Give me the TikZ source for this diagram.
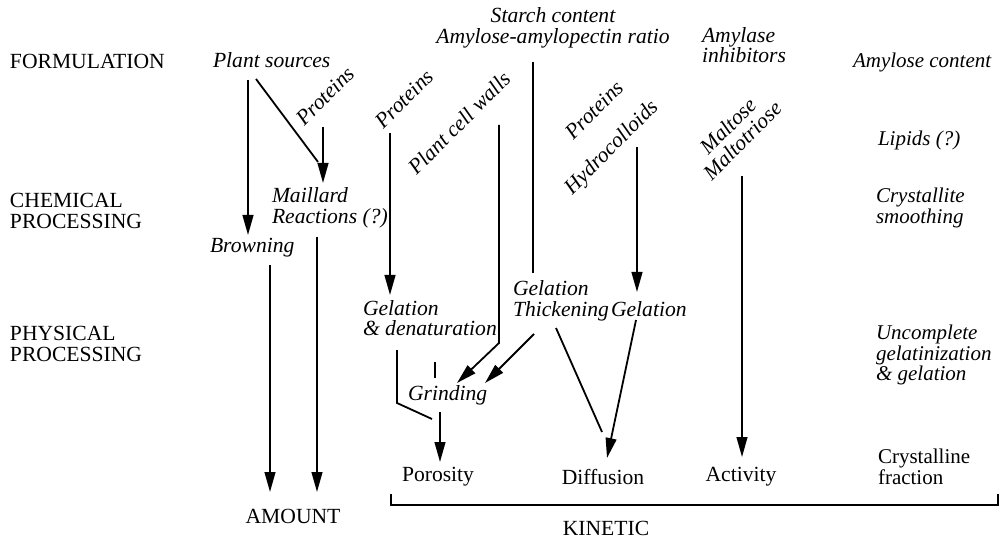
\documentclass[tikz,border=0pt]{standalone}
\usepackage{fontspec}
\setmainfont{Liberation Serif}
\usetikzlibrary{arrows.meta}
\begin{document}
\begin{tikzpicture}[x=0.5pt,y=-0.5pt,
  every node/.style={inner sep=0pt,outer sep=0pt,font=\fontsize{10.8}{10.2}\selectfont},
  lbl/.style={anchor=west,align=left},
  itl/.style={anchor=west,align=left,font=\fontsize{10.8}{10.2}\selectfont\itshape},
  ritl/.style={anchor=west,align=left,font=\fontsize{10.5}{10.2}\selectfont\itshape},
  rot/.style={rotate=45,font=\fontsize{10.8}{10.2}\selectfont\itshape},
  conn/.style={line width=0.9pt},
  arr/.style={line width=0.9pt,-{Triangle[length=10pt,width=5.4pt]}}]
\useasboundingbox (0,0) rectangle (999,539);
% row labels
\node[lbl] (form) at (10,61) {FORMULATION};
\node[lbl] (chem) at (10,211) {CHEMICAL\\PROCESSING};
\node[lbl] (phys) at (10,344) {PHYSICAL\\PROCESSING};
% top texts
\node[itl] (plant) at (213,60) {Plant sources};
\node[font=\fontsize{10.8}{10.2}\selectfont\itshape,align=center] (starch) at (553,28) {Starch content\\Amylose-amylopectin ratio};
\node[itl] (amylase) at (702,45) {Amylase\\inhibitors};
\node[ritl] (amycont) at (853,62) {Amylose content};
\node[ritl] (lipids) at (878,140) {Lipids (?)};
\node[ritl] (cryst) at (876,208) {Crystallite\\smoothing};
\node[ritl] (uncomp) at (876,355) {Uncomplete\\gelatinization\\\& gelation};
\node[lbl,font=\fontsize{10.5}{10.2}\selectfont] (crfrac) at (878,467) {Crystalline\\fraction};
% rotated
\node[rot] (prot1) at (325,96) {Proteins};
\node[rot] (prot2) at (404,99) {Proteins};
\node[rot] (walls) at (459,123) {Plant cell walls};
\node[rot] (prot3) at (594,110) {Proteins};
\node[rot] (hydro) at (612,148) {Hydrocolloids};
\node[rot,align=center] (malt) at (735,133) {Maltose\\Maltotriose};
% chemical row
\node[itl] (maill) at (272,208) {Maillard\\Reactions (?)};
\node[itl] (brown) at (210,248) {Browning};
% physical row
\node[itl] (geld) at (363,318) {Gelation\\\& denaturation};
\node[itl] (gelt) at (513,301) {Gelation\\Thickening};
\node[itl] (gelr) at (611,309) {Gelation};
\node[itl] (grind) at (408,395) {Grinding};
% outputs
\node (poro) at (438,477) {Porosity};
\node (diff) at (603,477) {Diffusion};
\node (act) at (741,477) {Activity};
\node (amount) at (293,516) {AMOUNT};
\node (kin) at (606,528) {KINETIC};
% coordinates
\coordinate (a1s) at (248,80); \coordinate (a1e) at (248,235);
\coordinate (d1s) at (256,79); \coordinate (d1e) at (318,162);
\coordinate (a2s) at (323,127); \coordinate (a2e) at (323,183);
\coordinate (a3s) at (270,265); \coordinate (a3e) at (270,492);
\coordinate (a4s) at (317,237); \coordinate (a4e) at (317,492);
\coordinate (a5s) at (390,133); \coordinate (a5e) at (390,295);
\coordinate (w1) at (499,125); \coordinate (w2) at (499,343); \coordinate (w3) at (457,383);
\coordinate (st1) at (533,62); \coordinate (st2) at (533,273);
\coordinate (t1) at (534,334); \coordinate (t2) at (485,383);
\coordinate (t3) at (556,328); \coordinate (t4) at (602,432);
\coordinate (h1) at (637,147); \coordinate (h2) at (637,292);
\coordinate (g1) at (636,320); \coordinate (g2) at (607,458);
\coordinate (m1) at (742,176); \coordinate (m2) at (742,457);
\coordinate (p1) at (397,350); \coordinate (p2) at (397,403); \coordinate (p3) at (432,419);
\coordinate (tk1) at (435,362); \coordinate (tk2) at (435,378);
\coordinate (gr1) at (440,412); \coordinate (gr2) at (440,462);
\coordinate (b1) at (391,494); \coordinate (b2) at (391,505); \coordinate (b3) at (998,505); \coordinate (b4) at (998,494);
% connectors
\draw[arr] (a1s) -- (a1e);
\draw[conn] (d1s) -- (d1e);
\draw[arr] (a2s) -- (a2e);
\draw[arr] (a3s) -- (a3e);
\draw[arr] (a4s) -- (a4e);
\draw[arr] (a5s) -- (a5e);
\draw[arr] (w1) -- (w2) -- (w3);
\draw[conn] (st1) -- (st2);
\draw[arr] (t1) -- (t2);
\draw[conn] (t3) -- (t4);
\draw[arr] (h1) -- (h2);
\draw[arr] (g1) -- (g2);
\draw[arr] (m1) -- (m2);
\draw[conn] (p1) -- (p2) -- (p3);
\draw[conn] (tk1) -- (tk2);
\draw[arr] (gr1) -- (gr2);
\draw[conn] (b1) -- (b2) -- (b3) -- (b4);
\end{tikzpicture}
\end{document}
